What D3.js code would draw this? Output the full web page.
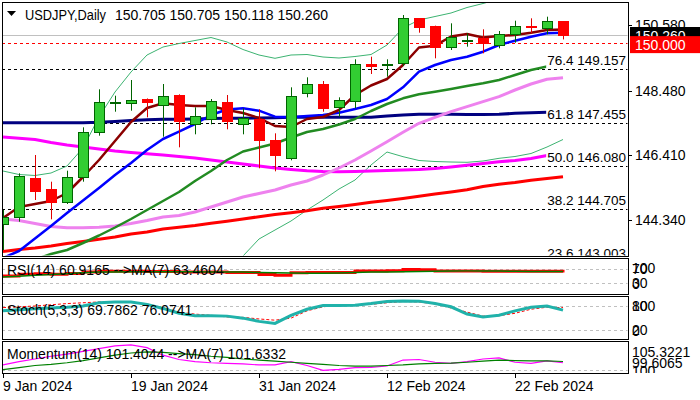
<!DOCTYPE html>
<html><head><meta charset="utf-8">
<script src="https://cdn.jsdelivr.net/npm/d3@7"></script>
<style>
body{margin:0;background:#fff}
text{font-family:"Liberation Sans",Arial,sans-serif;font-size:14px;fill:#000;white-space:pre}
</style></head><body>
<svg id="c" width="700" height="400"></svg>
<script>
// ---------------- DATA ----------------
const dates = ["2024-01-09","2024-01-10","2024-01-11","2024-01-12","2024-01-15","2024-01-16","2024-01-17","2024-01-18","2024-01-19",
"2024-01-22","2024-01-23","2024-01-24","2024-01-25","2024-01-26","2024-01-29","2024-01-30","2024-01-31",
"2024-02-01","2024-02-02","2024-02-05","2024-02-06","2024-02-07","2024-02-08","2024-02-09","2024-02-12",
"2024-02-13","2024-02-14","2024-02-15","2024-02-16","2024-02-19","2024-02-20","2024-02-21","2024-02-22","2024-02-23","2024-02-26","2024-02-27"];
const opens = [144.202,144.446,145.674,145.322,144.906,145.706,147.166,148.094,148.074,148.212,148.01,148.33,147.402,147.562,148.106,147.402,147.562,146.89,146.314,148.394,148.682,147.946,148.138,149.322,149.3,149.354,150.794,150.548,149.886,150.09,150.174,149.94,150.292,150.548,150.474,150.705];
const highs = [144.66,145.834,146.42,145.566,145.918,147.306,148.522,148.318,148.82,148.23,148.692,148.362,147.946,148.212,148.34,147.914,147.882,147.114,148.586,148.906,148.788,148.266,149.482,149.566,149.482,150.9,150.804,150.56,150.634,150.314,150.442,150.388,150.718,150.794,150.846,150.705];
const lows = [143.38,144.286,144.98,144.362,144.852,145.566,147.038,147.806,147.838,147.626,147.006,146.666,147.082,147.402,147.242,147.082,145.994,145.898,146.25,148.266,147.806,147.646,147.914,149.012,148.926,149.268,150.334,149.514,149.78,149.886,149.674,149.834,150.014,150.314,150.282,150.118];
const closes = [144.446,145.748,145.278,144.906,145.706,147.166,148.126,148.126,148.18,148.106,148.318,147.498,147.658,148.138,147.498,147.594,146.89,146.41,148.318,148.682,147.934,148.17,149.322,149.258,149.322,150.794,150.526,149.886,150.186,150.1,150.014,150.282,150.548,150.526,150.698,150.26];

const maMaroon = [144.404,144.756,144.852,144.948,145.204,145.716,146.26,146.868,147.476,147.924,148.074,148.02,147.988,147.988,147.86,147.764,147.604,147.348,147.316,147.572,147.636,147.86,148.34,148.644,148.852,149.3,149.86,149.918,150.212,150.292,150.18,150.228,150.26,150.334,150.42,150.436];
const maBlue = [143.124,143.348,143.748,144.148,144.564,144.964,145.364,145.78,146.164,146.58,146.932,147.166,147.412,147.7,147.876,147.914,147.838,147.646,147.626,147.668,147.7,147.774,147.892,148.02,148.212,148.586,149.086,149.3,149.46,149.566,149.726,149.94,150.078,150.206,150.314,150.334];
const maGreen = [142.804,142.932,143.076,143.252,143.38,143.604,143.844,144.1,144.372,144.66,144.948,145.236,145.588,145.908,146.26,146.532,146.66,146.788,146.98,147.156,147.252,147.396,147.572,147.828,148.052,148.234,148.362,148.446,148.532,148.628,148.714,148.82,148.98,149.14,149.252,149.364];
const maViolet = [144.372,144.324,144.228,144.132,144.094,144.094,144.106,144.148,144.228,144.324,144.436,144.484,144.596,144.756,144.916,145.076,145.188,145.3,145.46,145.588,145.78,146.004,146.26,146.548,146.846,147.146,147.434,147.626,147.806,147.966,148.126,148.286,148.5,148.692,148.842,148.894];
const maNavy = [147.454,147.454,147.454,147.454,147.454,147.454,147.466,147.492,147.524,147.55,147.562,147.566,147.572,147.585,147.594,147.594,147.604,147.614,147.626,147.636,147.626,147.626,147.626,147.626,147.668,147.7,147.722,147.722,147.722,147.716,147.716,147.722,147.754,147.774,147.786,147.796];
const maMagenta = [146.996,146.954,146.916,146.82,146.74,146.676,146.612,146.548,146.5,146.462,146.42,146.372,146.324,146.26,146.196,146.132,146.068,146.004,145.956,145.918,145.892,145.886,145.892,145.908,145.924,145.94,145.956,145.988,146.036,146.09,146.148,146.206,146.244,146.308,146.404,146.452];
const maRed = [143.332,143.396,143.444,143.508,143.588,143.652,143.722,143.796,143.892,143.956,144.052,144.106,144.164,144.234,144.298,144.372,144.446,144.516,144.574,144.638,144.714,144.772,144.836,144.906,144.964,145.028,145.098,145.172,145.236,145.31,145.412,145.486,145.54,145.61,145.668,145.726];
const bandUpper = [145.908,145.796,145.764,145.844,146.068,146.644,147.636,148.436,149.076,149.62,149.876,149.988,150.084,150.18,150.036,149.796,149.62,149.514,149.62,149.636,149.556,149.524,149.572,149.636,149.94,150.484,150.74,150.852,150.964,151.14,151.268,151.412,151.508,151.572,151.604,151.636];
const bandLower = [null,null,null,null,null,null,null,null,null,null,null,null,null,null,142.58,143.188,143.732,144.02,144.308,144.66,144.98,145.332,145.62,146.1,146.516,146.366,146.244,146.212,146.196,146.186,146.228,146.314,146.372,146.468,146.676,146.916];

const fiboNames = ["23.6","38.2","50.0","61.8","76.4"];
const fiboPrices = [143.003,144.705,146.080,147.455,149.157];
const priceTicks = [150.580,148.480,146.410,144.340];
const hLinePrice = 150.000;

const rsi = [51,56,57,56,58,62,64.6,64.6,64.6,64,64,62,62,62,61,61,55,53,60,61,61,61,65,65,66,69.5,69,65,65,65,64.6,64.6,64.6,64.6,64.6,60.9165];
const rsiMA = [48,50,53,55,57,60,62,62.5,63,63,63,63,63,62.5,62,62,61,60,59.5,59,59,59.5,61,62,62.5,63,64,64.5,65,65.5,65.5,65,64.5,64,64,63.4604];
const stochK = [68,71,73,75,77,80,88,90,90,84,74,62,56,56,55,50,42,37,57,72,81,81,82,86,91,92.5,92,86,78,60,53,57,68,77,80,69.7862];
const stochD = [76,78,80,83,86,88,90,91,90,85,76,65,60,57,53,52,48,45,50,68,78,82,83,84,88,91,90,85,75,65,55,56,62,72,77,76.0741];
const mom = [101.0,101.6,102.1,102.6,103.0,103.5,104.0,104.5,104.7,104.2,102.8,102.0,101.6,101.4,101.3,101.2,101.0,101.0,101.6,100.9,100.0,100.2,100.5,100.55,100.8,101.9,102.0,101.5,101.3,101.6,102.1,102.3,101.5,101.3,101.75,101.4044];
const momMA = [100.15,100.5,100.9,101.1,101.4,101.8,102.3,102.8,103.2,103.4,103.3,103.1,102.9,102.6,102.4,102.1,101.9,101.7,101.5,101.3,101.1,100.9,100.8,100.8,100.9,101.0,101.2,101.3,101.35,101.5,101.7,101.9,101.8,101.75,101.75,101.6332];
const dateTickIdx = [0,8,16,24,32];

// ---------------- LAYOUT ----------------
const svg = d3.select("#c");
const L = 2, R = 628;
const P = {main:[2,256], rsi:[258,294], sto:[296,339], mom:[341,373]};
const x = d3.scaleLinear().domain([0,39]).range([3,627]);
const y = d3.scaleLinear().domain([143.188,151.316]).range([256,2]);
const yR = d3.scaleLinear().domain([0,100]).range([293.8,258.8]);
const yS = d3.scaleLinear().domain([0,100]).range([338.4,297.9]);
const yM = d3.scaleLinear().domain([99.6065,105.3221]).range([372.5,341.5]);
const parse = d3.timeParse("%Y-%m-%d");
const fmt = d3.timeFormat("%-d %b %Y");

const defs = svg.append("defs");
Object.entries(P).forEach(([k,[t,b]])=>{
  defs.append("clipPath").attr("id","clip-"+k).append("rect")
    .attr("x",L+0.5).attr("y",t+0.5).attr("width",R-L-1).attr("height",b-t-1);
});

const main = svg.append("g").attr("clip-path","url(#clip-main)");

// price line & horizontal level
const lastC = closes[closes.length-1];
main.append("line").attr("x1",L).attr("x2",R).attr("y1",Math.round(y(lastC))+0.5).attr("y2",Math.round(y(lastC))+0.5)
  .attr("stroke","#c0c0c0").attr("stroke-width",1);
main.append("line").attr("x1",L).attr("x2",R).attr("y1",Math.round(y(hLinePrice))+0.5).attr("y2",Math.round(y(hLinePrice))+0.5)
  .attr("stroke","#ff0000").attr("stroke-dasharray","3,3");
// fibo lines
fiboPrices.forEach(p=>{
  const yy = Math.round(y(p))+0.5;
  main.append("line").attr("x1",L).attr("x2",R).attr("y1",yy).attr("y2",yy)
    .attr("stroke","#000").attr("stroke-dasharray","3,3");
});

// MA lines
const mk = (arr)=>d3.line().defined(d=>d!=null).x((d,i)=>x(i)).y(d=>y(d))(arr);
function drawLine(arr,color,w){
  main.append("path").attr("d",mk(arr)).attr("fill","none").attr("stroke",color).attr("stroke-width",w).attr("stroke-linejoin","round");
}
drawLine(bandUpper,"#3cb371",1);
drawLine(bandLower,"#3cb371",1);
drawLine(maRed,"#ff0000",3);
drawLine(maMagenta,"#ff00ff",3);
drawLine(maNavy,"#000080",3);
drawLine(maViolet,"#ee82ee",3);
drawLine(maGreen,"#228b22",2.5);
drawLine(maBlue,"#0000ff",2.5);
drawLine(maMaroon,"#8b0000",2.5);

// candles
const idx = d3.range(opens.length);
const cg = main.append("g");
idx.forEach(i=>{
  const up = closes[i] >= opens[i];
  const cx = Math.round(x(i))+0.5;
  const wick = up ? "#006400" : "#e00000";
  cg.append("line").attr("x1",cx).attr("x2",cx).attr("y1",y(highs[i])).attr("y2",y(lows[i])).attr("stroke",wick).attr("stroke-width",1);
  const t = Math.round(y(Math.max(opens[i],closes[i])));
  const b = Math.round(y(Math.min(opens[i],closes[i])));
  const h = Math.max(1,b-t);
  cg.append("rect").attr("x",cx-5).attr("y",t+0.5).attr("width",10).attr("height",h)
    .attr("fill",up?"#32cd32":"#ff0000").attr("stroke",up?"#006400":"#ff0000").attr("stroke-width",1);
});

// fibo labels with white background
fiboPrices.forEach((p,k)=>{
  const yy = y(p);
  const t = main.append("text").attr("x",626).attr("y",yy-4).attr("text-anchor","end")
    .style("font-size","13.5px").text(fiboNames[k]+" "+d3.format(".3f")(p));
  const bb = t.node().getBBox();
  main.insert("rect","text").attr("x",bb.x-1).attr("y",bb.y).attr("width",bb.width+1).attr("height",yy-1-bb.y).attr("fill","#fff");
});
main.selectAll("text").raise();

// ---------------- SUB PANELS ----------------
const rsiG = svg.append("g").attr("clip-path","url(#clip-rsi)");
[70,30].forEach(v=>rsiG.append("line").attr("x1",L).attr("x2",R).attr("y1",Math.round(yR(v))+0.5).attr("y2",Math.round(yR(v))+0.5).attr("stroke","#c0c0c0").attr("stroke-dasharray","3,3"));
const lR = d3.line().x((d,i)=>x(i)).y(d=>yR(d)).curve(d3.curveStepAfter);
rsiG.append("path").attr("d",lR(rsi)).attr("fill","none").attr("stroke","#ff0000").attr("stroke-width",3);
rsiG.append("path").attr("d",d3.line().x((d,i)=>x(i)).y(d=>yR(d))(rsiMA)).attr("fill","none").attr("stroke","#008000").attr("stroke-width",1.5);
rsiG.append("text").attr("x",7).attr("y",270).attr("dominant-baseline","central").text("RSI(14) 60.9165 -->MA(7) 63.4604");

const stoG = svg.append("g").attr("clip-path","url(#clip-sto)");
[80,20].forEach(v=>stoG.append("line").attr("x1",L).attr("x2",R).attr("y1",Math.round(yS(v))+0.5).attr("y2",Math.round(yS(v))+0.5).attr("stroke","#c0c0c0").attr("stroke-dasharray","3,3"));
stoG.append("path").attr("d",d3.line().x((d,i)=>x(i)).y(d=>yS(d))(stochD)).attr("fill","none").attr("stroke","#ff0000").attr("stroke-width",1).attr("stroke-dasharray","3,2");
stoG.append("path").attr("d",d3.line().x((d,i)=>x(i)).y(d=>yS(d))(stochK)).attr("fill","none").attr("stroke","#20b2aa").attr("stroke-width",3);
stoG.append("text").attr("x",7).attr("y",309.5).attr("dominant-baseline","central").text("Stoch(5,3,3) 69.7862 76.0741");

const momG = svg.append("g").attr("clip-path","url(#clip-mom)");
momG.append("line").attr("x1",L).attr("x2",R).attr("y1",Math.round(yM(100))+0.5).attr("y2",Math.round(yM(100))+0.5).attr("stroke","#c0c0c0").attr("stroke-dasharray","3,3");
momG.append("path").attr("d",d3.line().x((d,i)=>x(i)).y(d=>yM(d))(mom)).attr("fill","none").attr("stroke","#ff00ff").attr("stroke-width",1.2);
momG.append("path").attr("d",d3.line().x((d,i)=>x(i)).y(d=>yM(d))(momMA)).attr("fill","none").attr("stroke","#008000").attr("stroke-width",1.2);
momG.append("text").attr("x",7).attr("y",354).attr("dominant-baseline","central").text("Momentum(14) 101.4044 -->MA(7) 101.6332");

// frames
Object.values(P).forEach(([t,b])=>{
  svg.append("rect").attr("x",L+0.5).attr("y",t+0.5).attr("width",R-L).attr("height",b-t).attr("fill","none").attr("stroke","#000");
});

// ---------------- AXES ----------------
const ax = svg.append("g");
priceTicks.forEach(p=>{
  const yy = Math.round(y(p))+0.5;
  ax.append("line").attr("x1",R).attr("x2",R+4).attr("y1",yy).attr("y2",yy).attr("stroke","#000");
  ax.append("text").attr("x",635).attr("y",y(p)).attr("dominant-baseline","central").text(d3.format(".3f")(p));
});
// current price box and level box
ax.append("rect").attr("x",630).attr("y",y(lastC)-8).attr("width",70).attr("height",17).attr("fill","#000");
ax.append("text").attr("x",635).attr("y",y(lastC)+0.5).attr("dominant-baseline","central").style("fill","#fff").text(d3.format(".3f")(lastC));
ax.append("rect").attr("x",630).attr("y",y(hLinePrice)-7).attr("width",70).attr("height",17).attr("fill","#ff0000");
ax.append("text").attr("x",635).attr("y",y(hLinePrice)+1.5).attr("dominant-baseline","central").style("fill","#fff").text(d3.format(".3f")(hLinePrice));

// sub panel labels
const subLab = (txt,yy)=>ax.append("text").attr("x",632).attr("y",yy).attr("dominant-baseline","central").text(txt);
subLab("100",P.rsi[0]+10); subLab("70",yR(70)); subLab("0",P.rsi[1]-10); subLab("30",yR(30));
subLab("100",P.sto[0]+10); subLab("80",yS(80)); subLab("0",P.sto[1]-8); subLab("20",yS(20));
defs.append("clipPath").attr("id","clip-momlab").append("rect").attr("x",629).attr("y",340).attr("width",71).attr("height",33);
const ml = ax.append("g").attr("clip-path","url(#clip-momlab)");
ml.append("text").attr("x",632).attr("y",yM(100)+1).attr("dominant-baseline","central").text("100");
ml.append("text").attr("x",632).attr("y",P.mom[1]-9.7).attr("dominant-baseline","central").text(d3.format(".4f")(99.6065));
ml.append("text").attr("x",632).attr("y",P.mom[0]+10.7).attr("dominant-baseline","central").text(d3.format(".4f")(105.3221));

// x axis
dateTickIdx.forEach(i=>{
  const xx = Math.round(x(i))+0.5;
  ax.append("line").attr("x1",xx).attr("x2",xx).attr("y1",P.mom[1]).attr("y2",P.mom[1]+5).attr("stroke","#000");
  ax.append("text").attr("x",x(i)).attr("y",385.5).attr("dominant-baseline","central").text(fmt(parse(dates[i])));
});

// header
svg.append("path").attr("d","M7,11L16,11L11.5,16Z").attr("fill","#000");
svg.append("text").attr("x",25).attr("y",14.5).attr("dominant-baseline","central")
  .attr("textLength",81).attr("lengthAdjust","spacingAndGlyphs").text("USDJPY,Daily");
svg.append("text").attr("x",115).attr("y",14.5).attr("dominant-baseline","central")
  .text([opens.at(-1),highs.at(-1),lows.at(-1),closes.at(-1)].map(d3.format(".3f")).join(" "));
</script></body></html>
